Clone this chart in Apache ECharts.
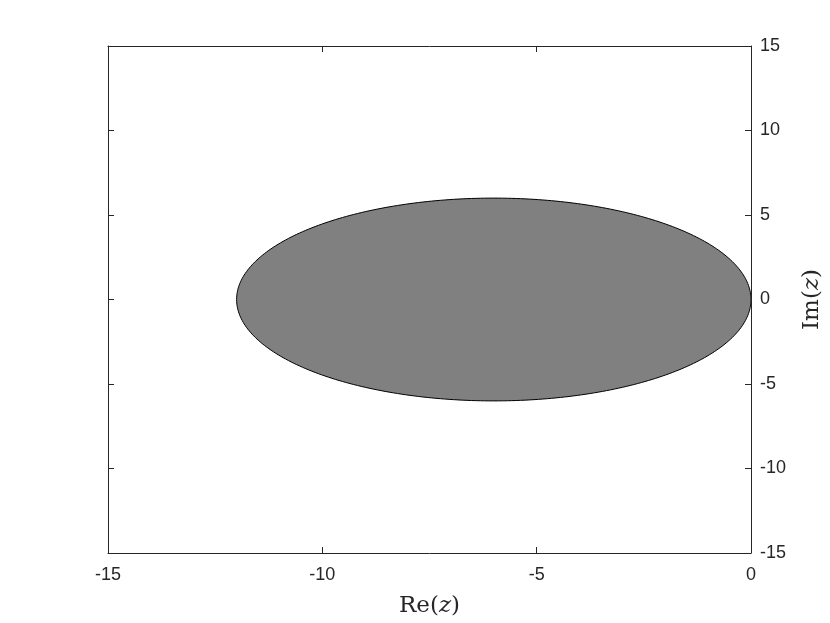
<!DOCTYPE html>
<html><head><meta charset="utf-8">
<script src="https://cdn.jsdelivr.net/npm/echarts@6/dist/echarts.min.js"></script>
<style>html,body{margin:0;padding:0;background:#fff}#c{width:830px;height:623px}</style>
</head><body><div id="c"></div>
<script>
// Data
const xTicks = [-15, -10, -5, 0];
const yTicks = [-15, -10, -5, 0, 5, 10, 15];
const regionCenter = [-6, 0];   // centre of the shaded region (Re, Im)
const regionRadius = 6;         // radius of the shaded disc

const chart = echarts.init(document.getElementById('c'));
const axisCol = '#262626';
const labelFont = {fontFamily: 'Liberation Sans, Arial, sans-serif', fontSize: 18, color: '#262626'};
const serif = 'DejaVu Serif, Liberation Serif, serif';
const nameRich = {
  n: {fontFamily: serif, fontSize: 23, color: '#262626'},
  i: {fontFamily: serif, fontStyle: 'italic', fontSize: 23, color: '#262626'}
};

chart.setOption({
  animation: false,
  grid: {left: 108, right: 79, top: 46, bottom: 70, containLabel: false, outerBoundsMode: 'none'},
  xAxis: [{
    type: 'value', min: xTicks[0], max: xTicks[xTicks.length - 1], interval: 5, position: 'bottom',
    axisLine: {show: true, onZero: false, lineStyle: {color: axisCol, width: 1}},
    axisTick: {show: true, inside: true, length: 6, lineStyle: {color: axisCol}},
    splitLine: {show: false},
    axisLabel: Object.assign({margin: 13}, labelFont),
    name: '{n|Re(}{i|z}{n|)}', nameLocation: 'middle', nameGap: 42,
    nameTextStyle: {fontSize: 23, rich: nameRich}
  }, {
    type: 'value', min: xTicks[0], max: xTicks[xTicks.length - 1], interval: 5, position: 'top',
    axisLine: {show: true, onZero: false, lineStyle: {color: axisCol, width: 1}},
    axisTick: {show: true, inside: true, length: 6, lineStyle: {color: axisCol}},
    splitLine: {show: false}, axisLabel: {show: false}
  }],
  yAxis: [{
    type: 'value', min: yTicks[0], max: yTicks[yTicks.length - 1], interval: 5, position: 'right',
    axisLine: {show: true, onZero: false, lineStyle: {color: axisCol, width: 1}},
    axisTick: {show: true, inside: true, length: 6, lineStyle: {color: axisCol}},
    splitLine: {show: false},
    axisLabel: Object.assign({margin: 9}, labelFont),
    name: '{n|Im(}{i|z}{n|)}', nameLocation: 'middle', nameGap: 50, nameRotate: 90,
    nameTextStyle: {fontSize: 23, rich: nameRich}
  }, {
    type: 'value', min: yTicks[0], max: yTicks[yTicks.length - 1], interval: 5, position: 'left',
    axisLine: {show: true, onZero: false, lineStyle: {color: axisCol, width: 1}},
    axisTick: {show: true, inside: true, length: 6, lineStyle: {color: axisCol}},
    splitLine: {show: false}, axisLabel: {show: false}
  }],
  series: [{
    type: 'custom',
    xAxisIndex: 0, yAxisIndex: 0,
    clip: true,
    data: [[regionCenter[0], regionCenter[1], regionRadius]],
    renderItem: function (params, api) {
      const cx = api.value(0), cy = api.value(1), r = api.value(2);
      const pts = [];
      const n = 360;
      for (let k = 0; k < n; k++) {
        const t = 2 * Math.PI * k / n;
        pts.push(api.coord([cx + r * Math.cos(t), cy + r * Math.sin(t)]));
      }
      return {
        type: 'polygon',
        shape: {points: pts},
        style: {fill: '#808080', stroke: '#000000', lineWidth: 1}
      };
    }
  }]
});
</script></body></html>
